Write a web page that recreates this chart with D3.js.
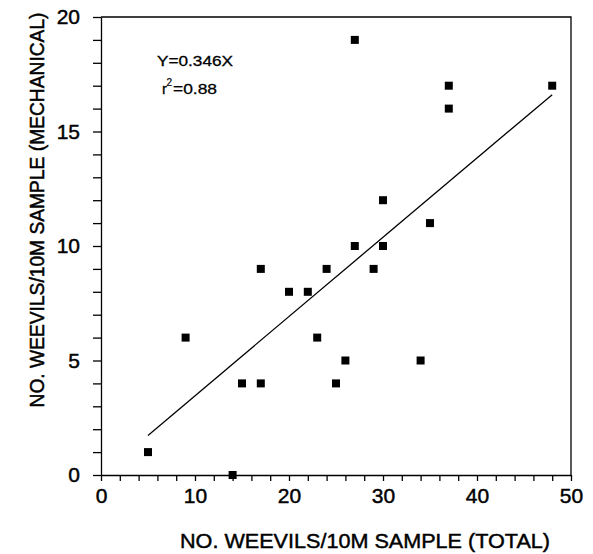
<!DOCTYPE html>
<html lang="en">
  <head>
    <meta charset="utf-8" />
    <script src="https://d3js.org/d3.v7.min.js" charset="utf-8"></script>
  </head>

  <style>
    body {
      margin: 0;
      background: #fff;
      font-family: 'Liberation Sans', Arial, sans-serif;
    }

    text {
      fill: #000;
      stroke: #000;
      stroke-width: 0.45;
    }

    .axis path,
    .axis line {
      stroke: #000;
      stroke-width: 1.3;
    }

    .axis text {
      font-family: 'Liberation Sans', Arial, sans-serif;
      font-size: 21px;
    }
  </style>

  <body>
    <div id="plot-container"></div>

    <script type="text/javascript">
      // data //--------------------------------------------------------

      // weevils per 10 m sample: total (x) vs mechanical (y)
      var total_counts = [
        5, 9, 14, 15, 17, 17, 20, 22, 23, 24, 25, 26, 27, 27, 29, 30, 30, 34,
        35, 37, 37, 48,
      ];
      var mechanical_counts = [
        1, 6, 0, 4, 4, 9, 8, 8, 6, 9, 4, 5, 10, 19, 9, 10, 12, 5, 11, 16, 17,
        17,
      ];

      // fitted line end points (Y = 0.346X)
      var fit_x = [5, 48];
      var fit_y = [1.73, 16.61];

      var x_ticks = d3.range(0, 51, 2);
      var y_ticks = d3.range(0, 21, 1);
      var x_labels = [0, 10, 20, 30, 40, 50];
      var y_labels = [0, 5, 10, 15, 20];

      // plot dimensions //---------------------------------------------

      var container_dimensions = { width: 593, height: 554 };
      var margin = { top: 17, right: 22, bottom: 79, left: 101 };
      var width = container_dimensions.width - margin.left - margin.right;
      var height = container_dimensions.height - margin.top - margin.bottom;

      var svg = d3
        .select('#plot-container')
        .append('svg')
        .attr('width', container_dimensions.width)
        .attr('height', container_dimensions.height);

      var plot = svg
        .append('g')
        .attr('transform', `translate(${margin.left}, ${margin.top})`);

      var scale_x = d3.scaleLinear().domain([0, 50]).range([0, width]);
      var scale_y = d3.scaleLinear().domain([0, 20]).range([height, 0]);

      // frame (top and right edges)
      plot
        .append('path')
        .attr('d', `M0,0H${width}V${height}`)
        .attr('fill', 'none')
        .attr('stroke', '#000')
        .attr('stroke-width', 1.3);

      // axes
      plot
        .append('g')
        .attr('class', 'axis')
        .attr('transform', `translate(0,${height})`)
        .call(
          d3
            .axisBottom(scale_x)
            .tickValues(x_ticks)
            .tickSize(6)
            .tickSizeOuter(0)
            .tickPadding(7)
            .tickFormat((d) => (x_labels.includes(d) ? d : ''))
        );

      plot
        .append('g')
        .attr('class', 'axis')
        .call(
          d3
            .axisLeft(scale_y)
            .tickValues(y_ticks)
            .tickSize(8)
            .tickSizeOuter(0)
            .tickPadding(13)
            .tickFormat((d) => (y_labels.includes(d) ? d : ''))
        );

      // fitted line
      plot
        .append('line')
        .attr('x1', scale_x(fit_x[0]))
        .attr('y1', scale_y(fit_y[0]))
        .attr('x2', scale_x(fit_x[1]))
        .attr('y2', scale_y(fit_y[1]))
        .attr('stroke', '#000')
        .attr('stroke-width', 1.3);

      // points
      var sq = 8;
      plot
        .append('g')
        .selectAll('rect')
        .data(d3.range(total_counts.length))
        .join('rect')
        .attr('x', (i) => scale_x(total_counts[i]) - sq / 2)
        .attr('y', (i) => scale_y(mechanical_counts[i]) - sq / 2)
        .attr('width', sq)
        .attr('height', sq)
        .attr('fill', '#000');

      // equation
      svg
        .append('text')
        .attr('x', 157)
        .attr('y', 66)
        .attr('font-size', 15)
        .style('stroke-width', 0.3)
        .attr('textLength', 76)
        .attr('lengthAdjust', 'spacingAndGlyphs')
        .text('Y=0.346X');

      svg
        .append('text')
        .attr('x', 162)
        .attr('y', 94)
        .attr('font-size', 15)
        .style('stroke-width', 0.3)
        .text('r');
      svg
        .append('text')
        .attr('x', 166.5)
        .attr('y', 86)
        .attr('font-size', 10)
        .style('stroke-width', 0.2)
        .text('2');
      svg
        .append('text')
        .attr('x', 173)
        .attr('y', 94)
        .attr('font-size', 15)
        .style('stroke-width', 0.3)
        .attr('textLength', 44)
        .attr('lengthAdjust', 'spacingAndGlyphs')
        .text('=0.88');

      // axis titles
      svg
        .append('text')
        .attr('x', 365)
        .attr('y', 548)
        .attr('text-anchor', 'middle')
        .attr('font-size', 21)
        .attr('textLength', 370)
        .attr('lengthAdjust', 'spacingAndGlyphs')
        .text('NO. WEEVILS/10M SAMPLE (TOTAL)');

      // y title: smaller font stretched back to full glyph height
      svg
        .append('text')
        .attr('transform', 'translate(44,210) rotate(-90) scale(1,1.105)')
        .attr('text-anchor', 'middle')
        .attr('font-size', 19)
        .attr('textLength', 395)
        .attr('lengthAdjust', 'spacingAndGlyphs')
        .text('NO. WEEVILS/10M SAMPLE (MECHANICAL)');
    </script>
  </body>
</html>
